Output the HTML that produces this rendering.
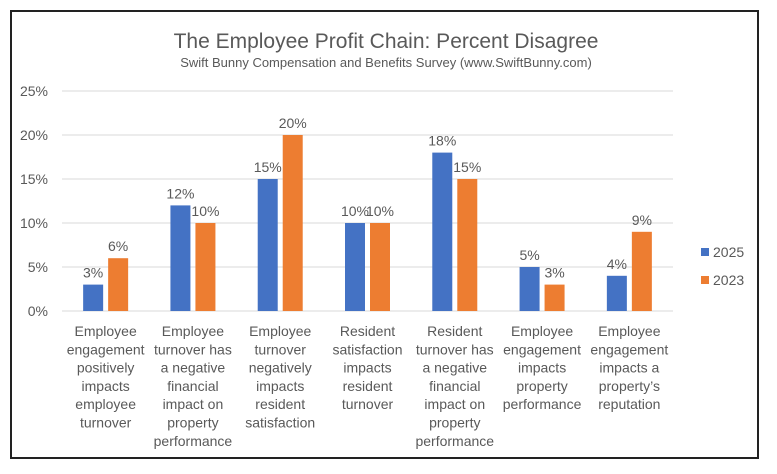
<!DOCTYPE html>
<html><head><meta charset="utf-8"><style>
body{margin:0;background:#fff;}
svg{display:block;font-family:"Liberation Sans",sans-serif;}
</style></head><body>
<svg id="c" width="777" height="474">
<rect x="0" y="0" width="777" height="474" fill="#fff"/>
<rect x="11" y="11" width="747" height="447" fill="#fff" stroke="#222" stroke-width="2"/>
<text x="386" y="48" text-anchor="middle" font-size="21" fill="#595959">The Employee Profit Chain: Percent Disagree</text>
<text x="386" y="67" text-anchor="middle" font-size="13" fill="#595959">Swift Bunny Compensation and Benefits Survey (www.SwiftBunny.com)</text>
<g id="grid"></g><g id="bars"></g><g id="cats"></g>
<g>
<rect x="701" y="248" width="8" height="8" fill="#4472c4"/>
<text x="713" y="257" font-size="14" fill="#595959">2025</text>
<rect x="701" y="276" width="8" height="8" fill="#ed7d31"/>
<text x="713" y="285" font-size="14" fill="#595959">2023</text>
</g>
</svg>
<script>
const categories=[["Employee","engagement","positively","impacts","employee","turnover"],["Employee","turnover has","a negative","financial","impact on","property","performance"],["Employee","turnover","negatively","impacts","resident","satisfaction"],["Resident","satisfaction","impacts","resident","turnover"],["Resident","turnover has","a negative","financial","impact on","property","performance"],["Employee","engagement","impacts","property","performance"],["Employee","engagement","impacts a","property\u2019s","reputation"]];
const values2025=[3,12,15,10,18,5,4];
const values2023=[6,10,20,10,15,3,9];
const yTicks=[0,5,10,15,20,25];
const NS="http://www.w3.org/2000/svg";
const L=62,R=673,T=91,B=311,MAX=25;
const y=v=>B-(v/MAX)*(B-T);
const cw=(R-L)/categories.length;
const cx=i=>L+cw*(i+0.5);
function mk(tag,attrs,parent){const e=document.createElementNS(NS,tag);for(const k in attrs)e.setAttribute(k,attrs[k]);parent.appendChild(e);return e;}
const grid=document.getElementById('grid'),bars=document.getElementById('bars'),cats=document.getElementById('cats');
yTicks.forEach(t=>{
 const l=mk('line',{x1:L,x2:R,y1:y(t),y2:y(t),stroke:'#d9d9d9','stroke-width':1},grid);
 
 
 const tx=mk('text',{x:48,y:y(t)+5,'text-anchor':'end','font-size':14,fill:'#595959'},grid);
 tx.textContent=t+'%';
 
 
});
const bw=20,gap=5;
categories.forEach((c,i)=>{
 [[values2025[i],'#4472c4',-1,'2025'],[values2023[i],'#ed7d31',1,'2023']].forEach(([v,col,s,yr])=>{
  const x=s<0?cx(i)-gap/2-bw:cx(i)+gap/2;
  const r=mk('rect',{x:x,y:y(v),width:bw,height:B-y(v),fill:col},bars);
  
  
  const t=mk('text',{x:x+bw/2,y:y(v)-7,'text-anchor':'middle','font-size':14,fill:'#595959'},bars);
  t.textContent=v+'%';
  
  
 });
 const g=mk('text',{'text-anchor':'middle','font-size':14,fill:'#595959'},cats);
 
 
 c.forEach((line,j)=>{const ts=mk('tspan',{x:cx(i),y:336+j*18.3},g);ts.textContent=line;});
});
</script>
</body></html>
